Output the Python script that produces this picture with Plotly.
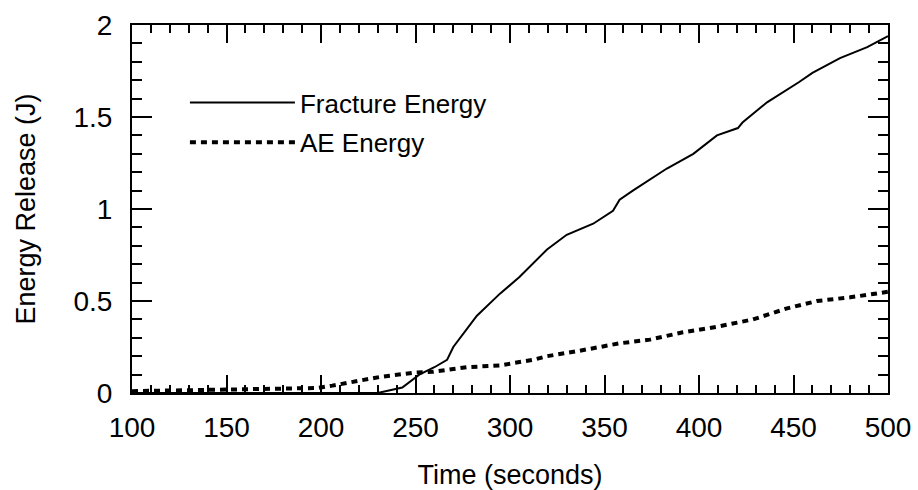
import plotly.graph_objects as go

# Data
frac_time = [100, 150, 200, 230, 243, 252, 260, 266.7, 270, 282.5, 294.7, 305, 319.6, 330,
             344, 354.5, 358, 365, 383, 397, 409.5, 420.6, 423, 436, 453, 460, 474.6, 489, 500]
frac_energy = [0, 0, 0, 0, 0.03, 0.10, 0.14, 0.18, 0.25, 0.42, 0.54, 0.63, 0.78, 0.86,
               0.92, 0.99, 1.05, 1.10, 1.22, 1.30, 1.40, 1.44, 1.47, 1.58, 1.69, 1.74, 1.82, 1.88, 1.94]

ae_time = [100, 141, 182, 198, 206, 217, 231, 249, 259, 277, 294.7, 312, 319.6, 337, 358,
           374, 391.5, 409.5, 428.6, 446.6, 462.4, 480, 500]
ae_energy = [0.01, 0.016, 0.02, 0.027, 0.04, 0.06, 0.087, 0.11, 0.115, 0.14, 0.15, 0.18, 0.20,
             0.23, 0.27, 0.29, 0.33, 0.36, 0.40, 0.46, 0.50, 0.52, 0.55]

x_ticks = [100, 150, 200, 250, 300, 350, 400, 450, 500]
y_ticks = [0, 0.5, 1, 1.5, 2]
y_tick_labels = ["0", "0.5", "1", "1.5", "2"]

FONT = "Liberation Sans, Arial, Helvetica, sans-serif"

fig = go.Figure()
fig.add_trace(go.Scatter(x=frac_time, y=frac_energy, mode="lines", name="Fracture Energy",
                         legendgroup="a",
                         line=dict(color="black", width=2)))
fig.add_trace(go.Scatter(x=ae_time, y=ae_energy, mode="lines", name="AE Energy",
                         legendgroup="b",
                         line=dict(color="black", width=4, dash="6px,5px")))

axis_common = dict(
    showline=True, linecolor="black", linewidth=2, mirror="ticks",
    ticks="inside", tickcolor="black", tickwidth=2,
    showgrid=False, zeroline=False, automargin=False,
    tickfont=dict(family=FONT, size=28, color="black"),
)

fig.update_xaxes(
    range=[100, 500], tickvals=x_ticks, ticklen=18,
    minor=dict(dtick=10, ticks="inside", ticklen=8, tickcolor="black", tickwidth=2, showgrid=False),
    title=dict(text="Time (seconds)", font=dict(family=FONT, size=27, color="black"), standoff=26),
    ticklabelstandoff=8,
    **axis_common,
)
fig.update_yaxes(
    range=[0, 2], tickvals=y_ticks, ticktext=y_tick_labels, ticklen=20,
    minor=dict(dtick=0.1, ticks="inside", ticklen=10, tickcolor="black", tickwidth=2, showgrid=False),
    title=dict(text="Energy Release (J)", font=dict(family=FONT, size=27, color="black"), standoff=30),
    ticklabelstandoff=12,
    **axis_common,
)

fig.update_layout(
    width=918, height=490,
    margin=dict(l=132, r=30, t=25, b=97),
    paper_bgcolor="white", plot_bgcolor="white",
    font=dict(family=FONT, color="black"),
    legend=dict(x=0.07, y=0.853, xanchor="left", yanchor="top",
                font=dict(family=FONT, size=26, color="black"),
                bgcolor="rgba(0,0,0,0)", itemwidth=105, tracegroupgap=3),
)

fig.write_html("out.html")
